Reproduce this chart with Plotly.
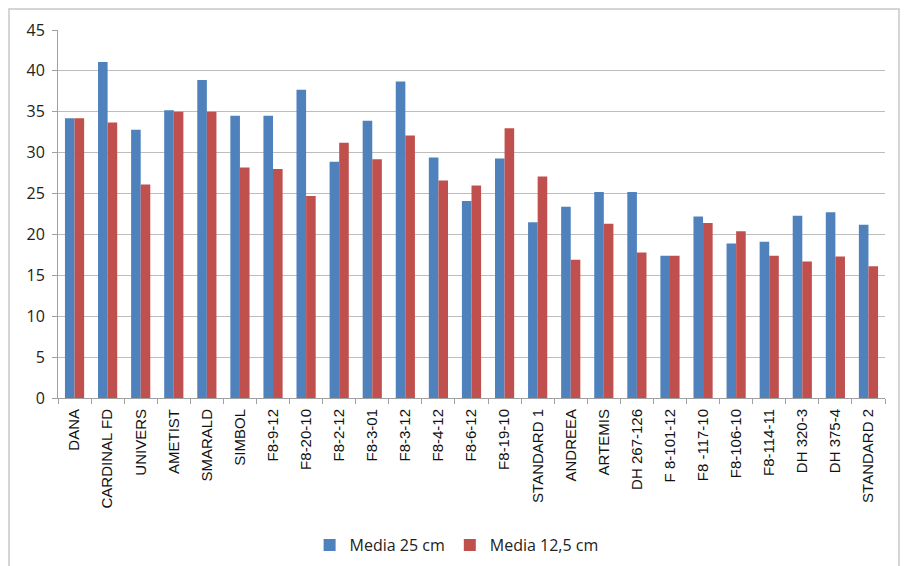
import plotly.graph_objects as go

categories = ["DANA", "CARDINAL FD", "UNIVERS", "AMETIST", "SMARALD", "SIMBOL",
              "F8-9-12", "F8-20-10", "F8-2-12", "F8-3-01", "F8-3-12", "F8-4-12",
              "F8-6-12", "F8-19-10", "STANDARD 1", "ANDREEA", "ARTEMIS",
              "DH 267-126", "F 8-101-12", "F8 -117-10", "F8-106-10", "F8-114-11",
              "DH 320-3", "DH 375-4", "STANDARD 2"]
media_25 = [34.2, 41.1, 32.8, 35.2, 38.9, 34.5, 34.5, 37.7, 28.9, 33.9, 38.7, 29.4,
            24.1, 29.3, 21.5, 23.4, 25.2, 25.2, 17.4, 22.2, 18.9, 19.1, 22.3, 22.7, 21.2]
media_12_5 = [34.2, 33.7, 26.1, 35.0, 35.0, 28.2, 28.0, 24.7, 31.2, 29.2, 32.1, 26.6,
              26.0, 33.0, 27.1, 16.9, 21.3, 17.8, 17.4, 21.4, 20.4, 17.4, 16.7, 17.3, 16.1]
y_ticks = [0, 5, 10, 15, 20, 25, 30, 35, 40, 45]

fig = go.Figure()
fig.add_trace(go.Bar(x=categories, y=media_25, name="Media 25 cm",
                     marker=dict(color="#4F81BD", line=dict(width=0))))
fig.add_trace(go.Bar(x=categories, y=media_12_5, name="Media 12,5 cm",
                     marker=dict(color="#C0504D", line=dict(width=0))))

fig.update_layout(
    width=905, height=566,
    margin=dict(l=58, r=20, t=30, b=168, autoexpand=False),
    paper_bgcolor="white", plot_bgcolor="white",
    barmode="group", bargap=0.42, bargroupgap=0,
    showlegend=True,
    legend=dict(orientation="h", x=0.482, y=(566 - 545) / 566, xref="paper", yref="container",
                xanchor="center", yanchor="middle",
                font=dict(family="Open Sans", size=16, color="#222"),
                itemwidth=30, traceorder="normal"),
    font=dict(family="Liberation Sans", color="#111"),
    shapes=[dict(type="rect", xref="paper", yref="paper",
                 x0=(9 - 58) / 827, x1=(899 - 58) / 827,
                 y0=-0.6, y1=(398 - 9) / 368,
                 line=dict(color="#c8c8c8", width=1.5), layer="below")],
)
fig.update_yaxes(range=[0, 45], tickvals=y_ticks, showgrid=True, gridcolor="#bdbdbd",
                 gridwidth=1, zeroline=False, showline=True, linecolor="#a0a0a0",
                 ticks="outside", ticklen=5, tickcolor="#a0a0a0", automargin=False,
                 ticklabelstandoff=4,
                 tickfont=dict(family="Open Sans", size=16, color="#222"))
fig.update_xaxes(tickangle=-90, showline=True, linecolor="#a0a0a0", automargin=False,
                 ticks="outside", tickson="boundaries", ticklen=5, tickcolor="#a0a0a0",
                 ticklabelstandoff=4,
                 tickfont=dict(family="Liberation Sans", size=15, color="#111"),
                 range=[-0.5, len(categories) - 0.5])

fig.write_html("out.html")
